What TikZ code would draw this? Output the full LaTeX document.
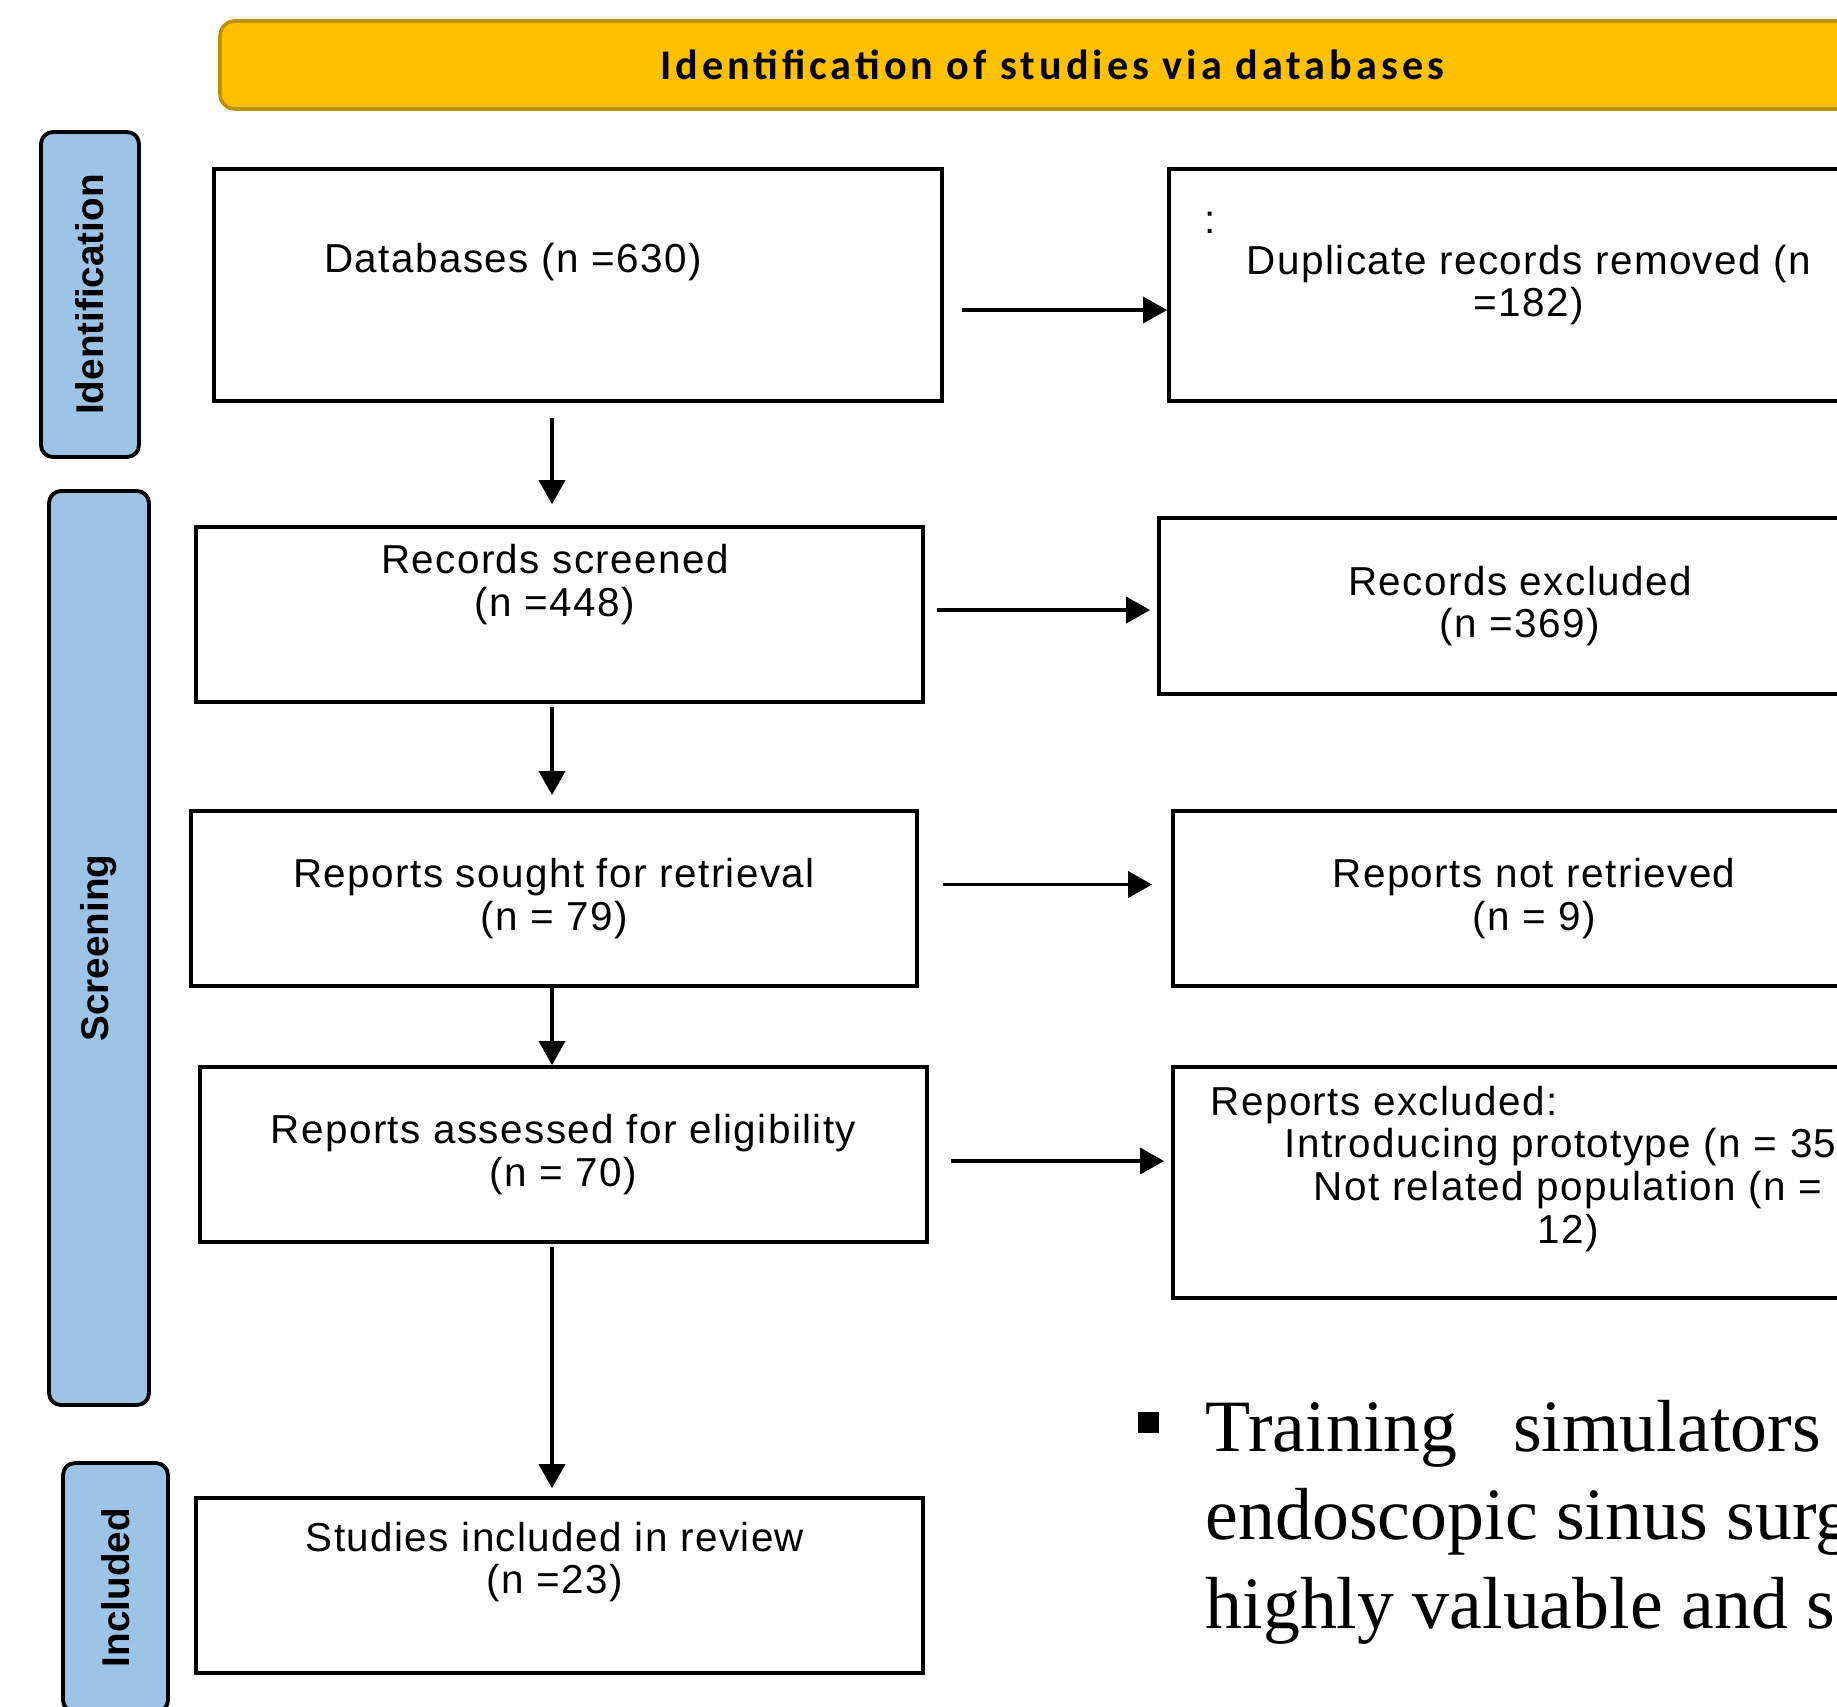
\documentclass[tikz,border=0pt]{standalone}
\usepackage{fontspec}
\setmainfont{Liberation Sans}
\newfontfamily\boxfont{Liberation Sans}[LetterSpace=3.5]
\newfontfamily\bannerfont{Carlito}[LetterSpace=9.5]
\newfontfamily\bodyfont{Liberation Serif}
\usetikzlibrary{calc,positioning,arrows.meta}
\definecolor{bannergold}{RGB}{255,192,0}
\definecolor{bannerline}{RGB}{191,144,0}
\definecolor{sideblue}{RGB}{157,195,230}

\begin{document}
\begin{tikzpicture}[
  box/.style={draw, line width=1.1pt, inner sep=0pt, align=center, font=\boxfont\fontsize{11.5}{12.2}\selectfont},
  txt/.style={inner sep=0pt, align=center, font=\boxfont\fontsize{11.5}{12.2}\selectfont},
  side/.style={draw, fill=sideblue, line width=1.1pt, rounded corners=1.2mm, inner sep=0pt, rotate=90, font=\bfseries\fontsize{11}{12}\selectfont},
  arr/.style={-{Triangle[length=2.4mm,width=2.6mm]}, line width=1.1pt},
  body/.style={inner sep=0pt, anchor=base west, font=\bodyfont\fontsize{21}{25.2}\selectfont}]

  \useasboundingbox (0,0) rectangle (18.37,-17.06);
  \clip (0,0) rectangle (18.37,-17.06);

  \node[draw=bannerline, fill=bannergold, line width=1pt, rounded corners=1.5mm, minimum width=16.64cm, minimum height=0.88cm, inner sep=0pt, font=\bannerfont\bfseries\fontsize{12}{14}\selectfont] (banner) at (10.52,-0.65) {Identification of studies via databases};

  % phase labels
  \node[side, minimum width=3.25cm, minimum height=0.98cm] (ident) at (0.90,-2.945) {Identification};
  \node[side, minimum width=9.14cm, minimum height=1.00cm] (screen) at (0.99,-9.48) {Screening};
  \node[side, minimum width=2.49cm, minimum height=1.05cm] (incl-s) at (1.155,-15.875) {Included};

  % main column
  \node[box, minimum width=7.28cm, minimum height=2.32cm] (db) at (5.78,-2.85) {};
  \node[txt] (db-t) at (5.13,-2.62) {Databases (n =630)};
  \node[box, minimum width=7.27cm, minimum height=1.75cm] (scr) at (5.595,-6.145) {};
  \node[txt] (scr-t) at (5.55,-5.845) {Records screened\\(n =448)};
  \node[box, minimum width=7.26cm, minimum height=1.75cm] (sought) at (5.54,-8.985) {Reports sought for retrieval\\(n = 79)};
  \node[box, minimum width=7.27cm, minimum height=1.75cm] (elig) at (5.635,-11.545) {Reports assessed for eligibility\\(n = 70)};
  \node[box, minimum width=7.27cm, minimum height=1.75cm] (incl) at (5.595,-15.855) {};
  \node[txt] (incl-t) at (5.55,-15.62) {Studies included in review\\(n =23)};

  % side column
  \node[box, minimum width=7.20cm, minimum height=2.32cm] (dup) at (15.29,-2.85) {Duplicate records removed (n\\=182)};
  \node[txt] (dup-c) at (12.10,-2.23) {:};
  \node[box, minimum width=7.22cm, minimum height=1.76cm] (rexc) at (15.20,-6.06) {Records excluded\\(n =369)};
  \node[box, minimum width=7.22cm, minimum height=1.75cm] (nret) at (15.34,-8.985) {Reports not retrieved\\(n = 9)};
  \node[box, minimum width=7.90cm, minimum height=2.31cm] (rexcl) at (15.68,-11.825) {};
  \node[txt, anchor=west] (rexcl-h) at (12.10,-11.05) {Reports excluded:};
  \node[txt] (rexcl-t) at (15.68,-11.90) {Introducing prototype (n = 35)\\Not related population (n =\\12)};

  \coordinate (spine) at (5.52,0);
  \draw[arr, shorten <=1.5mm, shorten >=2.1mm] (db.south -| spine) -- (scr.north -| spine);
  \draw[arr, shorten <=0.3mm, shorten >=1.4mm] (scr.south -| spine) -- (sought.north -| spine);
  \draw[arr] (sought.south -| spine) -- (elig.north -| spine);
  \draw[arr, shorten <=0.3mm, shorten >=0.8mm] (elig.south -| spine) -- (incl.north -| spine);

  \draw[arr, shorten <=1.8mm] ([yshift=-2.5mm]db.east) -- ([yshift=-2.5mm]db.east -| dup.west);
  \draw[arr, shorten <=1.2mm, shorten >=0.7mm] ([yshift=0.45mm]scr.east) -- ([yshift=0.45mm]scr.east -| rexc.west);
  \draw[arr, shorten <=2.4mm, shorten >=1.9mm] ([yshift=1.4mm]sought.east) -- ([yshift=1.4mm]sought.east -| nret.west);
  \draw[arr, shorten <=2.2mm, shorten >=0.7mm] ([yshift=-0.65mm]elig.east) -- ([yshift=-0.65mm]elig.east -| rexcl.west);

  \node[fill, minimum size=0.21cm, inner sep=0pt] (bullet) at (11.48,-14.225) {};
  \node[body] (line1) at (12.05,-14.51) {Training\hspace{0.56cm}simulators};
  \node[body] (line2) at (12.05,-15.395) {endoscopic sinus surg};
  \node[body] (line3) at (12.05,-16.28) {highly valuable and s};
\end{tikzpicture}
\end{document}
